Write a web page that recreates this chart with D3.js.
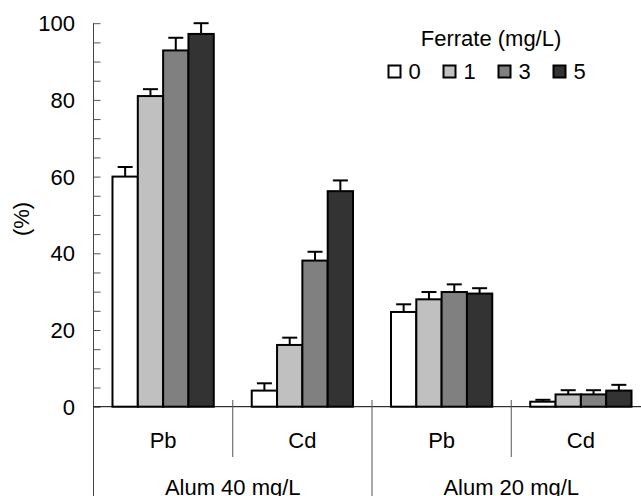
<!DOCTYPE html>
<html>
<head>
<meta charset="utf-8">
<script src="https://cdn.jsdelivr.net/npm/d3@7"></script>
<style>
  body { margin: 0; background: #fff; }
  svg { display: block; font-family: "Liberation Sans", Arial, sans-serif; }
</style>
</head>
<body>
<svg width="641" height="496"></svg>
<script>
// data
var metals = ["Pb", "Cd", "Pb", "Cd"];
var alumGroups = ["Alum 40 mg/L", "Alum 20 mg/L"];
var doses = ["0", "1", "3", "5"];
var colors = ["#ffffff", "#c0c0c0", "#808080", "#333333"];
// values per category (rows) and dose (columns)
var means = [
  [60.0, 81.0, 92.9, 97.2],
  [4.2, 16.1, 38.1, 56.2],
  [24.7, 28.0, 29.9, 29.5],
  [1.3, 3.2, 3.2, 4.2]
];
var errs = [
  [2.5, 1.8, 3.3, 2.8],
  [1.9, 1.9, 2.3, 2.8],
  [2.0, 1.9, 2.0, 1.4],
  [0.5, 1.1, 1.1, 1.5]
];
var yTicks = [0, 20, 40, 60, 80, 100];

var svg = d3.select("svg");
var fs = 22;

var x0 = d3.scaleBand()
    .domain(d3.range(metals.length))
    .range([93.5, 650.5]);

var x1 = d3.scaleBand()
    .domain(doses)
    .range([0, x0.bandwidth()])
    .paddingInner(0)
    .paddingOuter(0.75);

var y = d3.scaleLinear()
    .domain([0, 100])
    .range([406.7, 23.2]);

// bars
var groups = svg.selectAll("g.cat")
  .data(means)
  .enter().append("g")
    .attr("class", "cat")
    .attr("transform", function(d, i) { return "translate(" + x0(i) + ",0)"; });

groups.each(function(row, i) {
  var g = d3.select(this);
  row.forEach(function(v, j) {
    var bx = x1(doses[j]), bw = x1.bandwidth();
    g.append("rect")
      .attr("x", bx)
      .attr("y", y(v))
      .attr("width", bw)
      .attr("height", y(0) - y(v))
      .attr("fill", colors[j])
      .attr("stroke", "#000")
      .attr("stroke-width", 2);
    var cx = bx + bw / 2, top = y(v + errs[i][j]);
    g.append("line")
      .attr("x1", cx).attr("x2", cx)
      .attr("y1", y(v)).attr("y2", top)
      .attr("stroke", "#000").attr("stroke-width", 2);
    g.append("line")
      .attr("x1", cx - 7.5).attr("x2", cx + 7.5)
      .attr("y1", top).attr("y2", top)
      .attr("stroke", "#000").attr("stroke-width", 2);
  });
});

// y axis, ticks pointing inwards
var yAxis = svg.append("g")
    .attr("transform", "translate(93.5,0)")
    .call(d3.axisRight(y).tickValues(d3.range(0, 101, 5)).tickSize(7).tickFormat(""));
yAxis.select(".domain").remove();
yAxis.selectAll(".tick line").attr("stroke", "#555");

svg.append("line")
    .attr("x1", 93.5).attr("x2", 93.5)
    .attr("y1", y(100)).attr("y2", 496)
    .attr("stroke", "#444");

svg.selectAll("text.ytick")
  .data(yTicks)
  .enter().append("text")
    .attr("class", "ytick")
    .attr("x", 75)
    .attr("y", function(d) { return y(d) + 8; })
    .attr("text-anchor", "end")
    .attr("font-size", fs)
    .text(function(d) { return d; });

svg.append("text")
    .attr("transform", "translate(29,219) rotate(-90)")
    .attr("text-anchor", "middle")
    .attr("font-size", fs)
    .text("(%)");

// baseline
svg.append("line")
    .attr("x1", 93.5).attr("x2", 641)
    .attr("y1", y(0)).attr("y2", y(0))
    .attr("stroke", "#000");

// separators between categories
[1, 2, 3].forEach(function(i) {
  svg.append("line")
    .attr("x1", x0(i)).attr("x2", x0(i))
    .attr("y1", 400).attr("y2", i === 2 ? 496 : 457)
    .attr("stroke", "#555");
});

svg.selectAll("text.metal")
  .data(metals)
  .enter().append("text")
    .attr("class", "metal")
    .attr("x", function(d, i) { return x0(i) + x0.bandwidth() / 2; })
    .attr("y", 448)
    .attr("text-anchor", "middle")
    .attr("font-size", fs)
    .text(function(d) { return d; });

svg.selectAll("text.alum")
  .data(alumGroups)
  .enter().append("text")
    .attr("class", "alum")
    .attr("x", function(d, i) { return x0(i * 2) + x0.bandwidth(); })
    .attr("y", 495)
    .attr("text-anchor", "middle")
    .attr("font-size", fs)
    .text(function(d) { return d; });

// legend
svg.append("text")
    .attr("x", 491)
    .attr("y", 46)
    .attr("text-anchor", "middle")
    .attr("font-size", fs)
    .text("Ferrate (mg/L)");

var legend = svg.selectAll("g.legend")
  .data(doses)
  .enter().append("g")
    .attr("class", "legend")
    .attr("transform", function(d, i) { return "translate(" + (388.5 + i * 55) + ",65.5)"; });

legend.append("rect")
    .attr("width", 12).attr("height", 12)
    .attr("fill", function(d, i) { return colors[i]; })
    .attr("stroke", "#000")
    .attr("stroke-width", 2);

legend.append("text")
    .attr("x", 20)
    .attr("y", 13.5)
    .attr("font-size", fs)
    .text(function(d) { return d; });
</script>
</body>
</html>
